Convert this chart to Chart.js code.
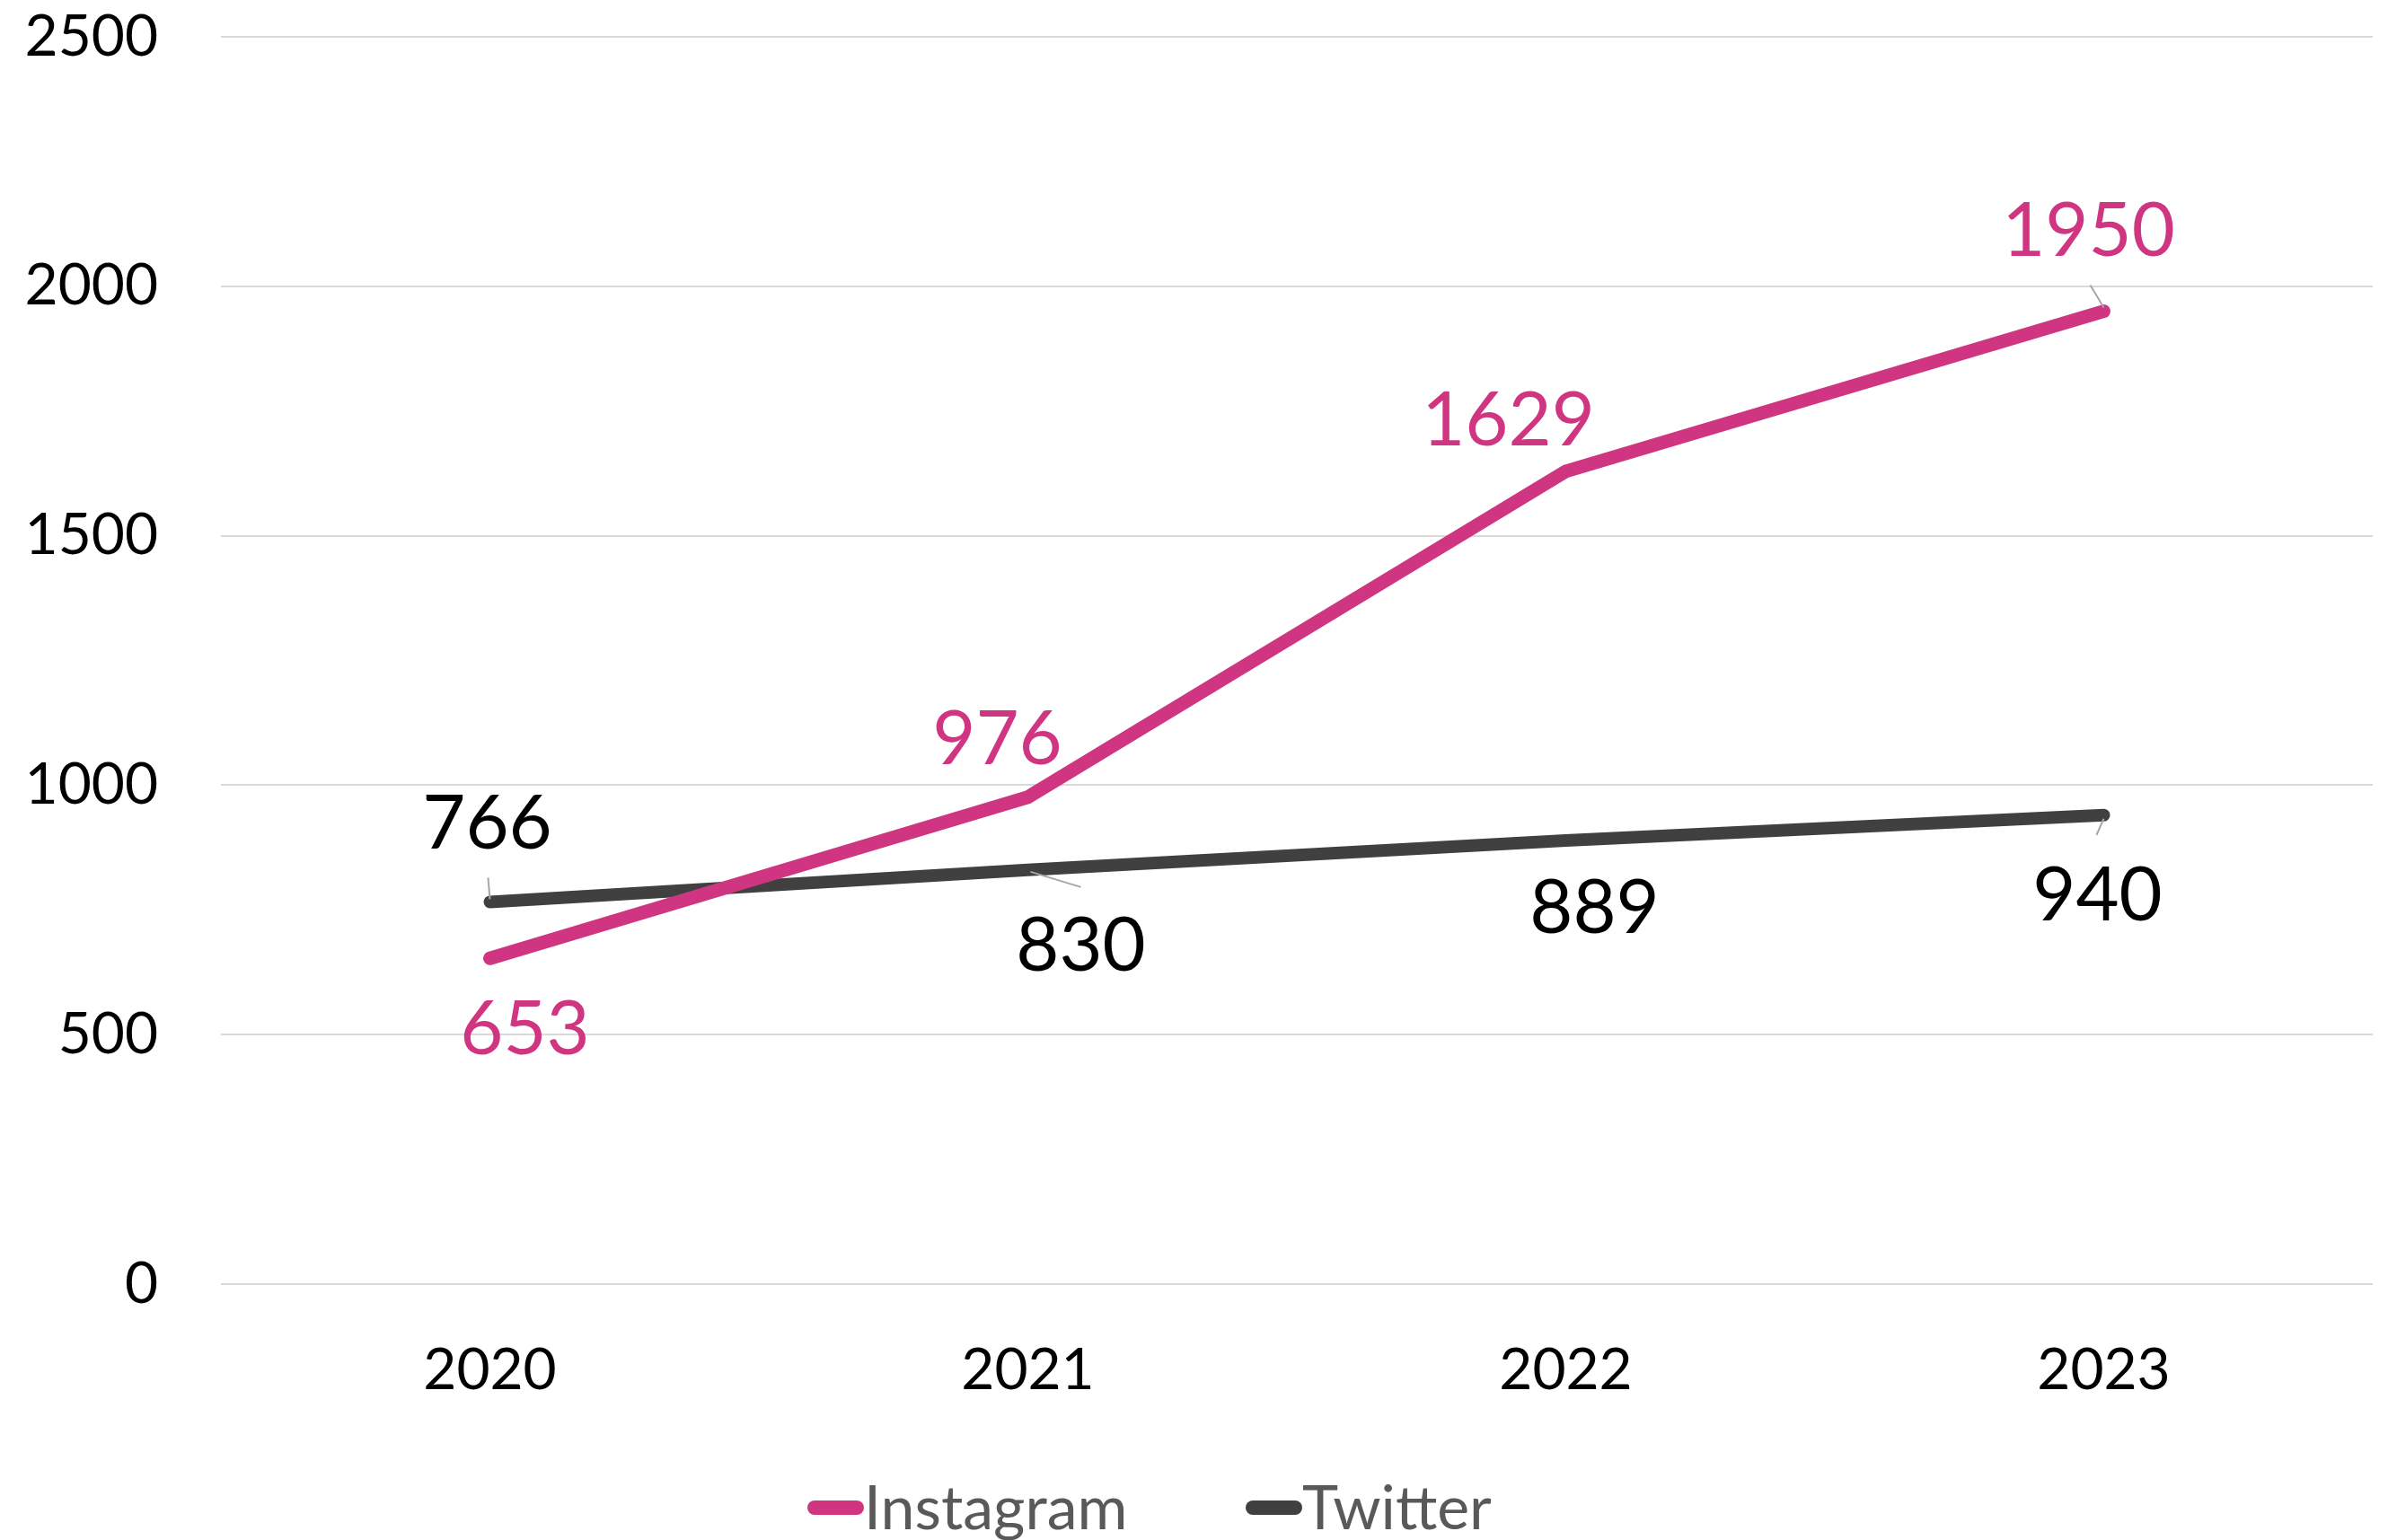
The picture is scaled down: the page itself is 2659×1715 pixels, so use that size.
<!DOCTYPE html>
<html>
<head>
<meta charset="utf-8">
<script src="https://cdn.jsdelivr.net/npm/chart.js@4/dist/chart.umd.min.js"></script>
<style>
  html, body { margin: 0; padding: 0; background: #fff; }
  canvas { display: block; }
</style>
</head>
<body>
<canvas id="chart" width="2659" height="1715"></canvas>
<script>
const years = ['2020', '2021', '2022', '2023'];
const instagram = [653, 976, 1629, 1950];
const twitter = [766, 830, 889, 940];
const yTicks = [0, 500, 1000, 1500, 2000, 2500];

const pink = '#D03581';
const dark = '#404040';

// label offsets from the point, in px, plus optional leader line [x0, y0, x1, y1]
const labelPlacement = [
    [
        {dx: 39, dy: 80},
        {dx: -34, dy: -64},
        {dx: -64, dy: -56},
        {dx: -17, dy: -88, leader: [-15, -29, 0, -4]}
    ],
    [
        {dx: -3, dy: -86, leader: [-2, -27, 0, -3]},
        {dx: 59, dy: 85, leader: [3, 2, 59, 19]},
        {dx: 32, dy: 76},
        {dx: -7, dy: 90, leader: [0, 4, -8, 22]}
    ]
];

const pointLabels = {
    id: 'pointLabels',
    afterDatasetsDraw(chart) {
        const ctx = chart.ctx;
        ctx.save();
        chart.data.datasets.forEach((ds, i) => {
            const meta = chart.getDatasetMeta(i);
            meta.data.forEach((pt, j) => {
                const p = labelPlacement[i][j];
                if (p.leader) {
                    ctx.strokeStyle = '#a6a6a6';
                    ctx.lineWidth = 2;
                    ctx.beginPath();
                    ctx.moveTo(pt.x + p.leader[0], pt.y + p.leader[1]);
                    ctx.lineTo(pt.x + p.leader[2], pt.y + p.leader[3]);
                    ctx.stroke();
                }
                ctx.fillStyle = ds.labelColor;
                ctx.font = '83px Lato';
                ctx.textAlign = 'center';
                ctx.textBaseline = 'middle';
                ctx.fillText(String(ds.data[j]), pt.x + p.dx, pt.y + p.dy);
            });
        });
        ctx.restore();
    }
};

const bottomLegend = {
    id: 'bottomLegend',
    afterDraw(chart) {
        const ctx = chart.ctx;
        const starts = [899, 1387];
        const y = 1679;
        ctx.save();
        ctx.font = '68px Lato';
        ctx.textBaseline = 'middle';
        ctx.textAlign = 'left';
        chart.data.datasets.forEach((ds, i) => {
            const x = starts[i];
            ctx.strokeStyle = ds.borderColor;
            ctx.lineWidth = 16;
            ctx.lineCap = 'round';
            ctx.beginPath();
            ctx.moveTo(x + 8, y);
            ctx.lineTo(x + 55, y);
            ctx.stroke();
            ctx.fillStyle = '#595959';
            ctx.fillText(ds.label, x + 63, y + 2);
        });
        ctx.restore();
    }
};

new Chart(document.getElementById('chart'), {
    type: 'line',
    data: {
        labels: years,
        datasets: [
            {
                label: 'Instagram',
                data: instagram,
                borderColor: pink,
                labelColor: pink,
                borderWidth: 15,
                borderCapStyle: 'round',
                borderJoinStyle: 'round',
                pointRadius: 0,
                tension: 0
            },
            {
                label: 'Twitter',
                data: twitter,
                borderColor: dark,
                labelColor: '#000000',
                borderWidth: 14,
                borderCapStyle: 'round',
                borderJoinStyle: 'round',
                pointRadius: 0,
                tension: 0
            }
        ]
    },
    options: {
        responsive: false,
        animation: false,
        layout: {padding: {top: 41, right: 17, bottom: 0, left: 0}},
        plugins: {
            legend: {display: false},
            tooltip: {enabled: false}
        },
        scales: {
            x: {
                offset: true,
                grid: {display: false, drawTicks: false},
                border: {display: false},
                ticks: {
                    color: '#000000',
                    font: {family: 'Lato', size: 64},
                    padding: 58
                },
                afterFit: (scale) => {
                    scale.height = 285;
                    scale.paddingLeft = 0;
                    scale.paddingRight = 0;
                }
            },
            y: {
                min: 0,
                max: 2500,
                afterBuildTicks: (scale) => { scale.ticks = yTicks.map(v => ({value: v})); },
                grid: {color: '#d9d9d9', lineWidth: 2, drawTicks: false},
                border: {display: false},
                ticks: {
                    color: '#000000',
                    font: {family: 'Lato', size: 64},
                    padding: 70,
                    callback: (v) => String(v)
                },
                afterFit: (scale) => {
                    scale.width = 246;
                    scale.paddingTop = 0;
                    scale.paddingBottom = 0;
                }
            }
        }
    },
    plugins: [pointLabels, bottomLegend]
});
</script>
</body>
</html>
